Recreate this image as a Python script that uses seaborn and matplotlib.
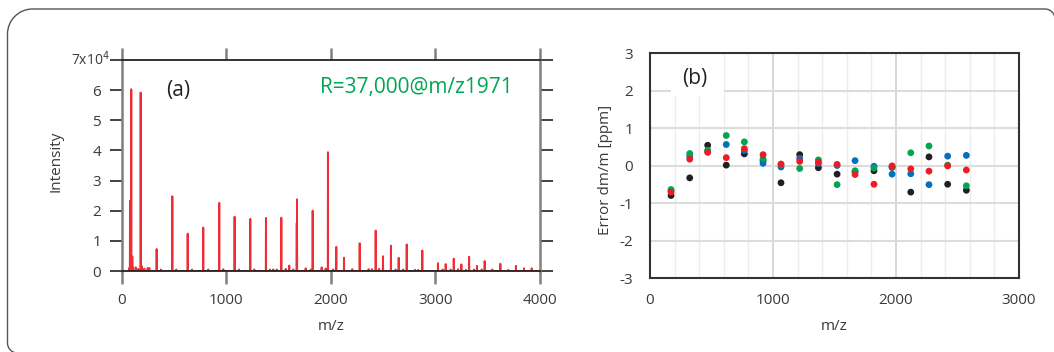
import numpy as np
import pandas as pd
import matplotlib
matplotlib.use("Agg")
import matplotlib.pyplot as plt
from matplotlib.path import Path
from matplotlib.patches import PathPatch
from matplotlib.ticker import MultipleLocator
import seaborn as sns

# (a) mass spectrum, intensity in units of 1e4
peak_mz = [77, 89, 99, 179, 332, 482, 629, 778, 931, 1078, 1228, 1378, 1525,
           1673, 1675, 1825, 1971, 2051, 2125, 2275, 2428, 2498, 2574, 2648,
           2725, 2874, 3024, 3098, 3175, 3248, 3322, 3397, 3471, 3621, 3770,
           3847, 3921]
peak_int = [2.33, 6.03, 0.48, 5.92, 0.73, 2.48, 1.24, 1.44, 2.26, 1.80, 1.73,
            1.76, 1.77, 1.59, 2.38, 2.00, 3.94, 0.80, 0.44, 0.92, 1.34, 0.49,
            0.84, 0.44, 0.88, 0.68, 0.26, 0.23, 0.41, 0.22, 0.47, 0.17, 0.33,
            0.24, 0.17, 0.09, 0.09]
minor_mz = [70, 105, 131, 156, 191, 214, 246, 262, 373, 520, 670, 826, 970,
            1120, 1267, 1416, 1448, 1480, 1567, 1601, 1640, 1758, 1806, 1911,
            1949, 2021, 2204, 2360, 2392, 2459, 2618, 2692, 2804, 2836, 3068,
            3145, 3217, 3292, 3369, 3442, 3544, 3697]
minor_int = [0.10, 0.12, 0.12, 0.07, 0.16, 0.08, 0.10, 0.10, 0.05, 0.05, 0.05,
             0.05, 0.06, 0.05, 0.05, 0.05, 0.05, 0.05, 0.07, 0.18, 0.05, 0.09,
             0.05, 0.12, 0.08, 0.05, 0.06, 0.06, 0.06, 0.07, 0.05, 0.05, 0.04,
             0.04, 0.05, 0.05, 0.06, 0.04, 0.05, 0.05, 0.05, 0.04]

# (b) mass error of calibrant peaks, four measurements
cal_mz = [171, 323, 469, 620, 767, 919, 1065, 1217, 1369, 1521, 1667, 1821,
          1968, 2120, 2268, 2420, 2572]
err_black = [-0.80, -0.33, 0.54, 0.01, 0.31, 0.13, -0.46, 0.29, -0.06, -0.23,
             -0.17, -0.14, -0.05, -0.71, 0.23, -0.50, -0.66]
err_blue = [-0.68, 0.25, 0.38, 0.56, 0.40, 0.06, -0.04, 0.19, 0.05, 0.00,
            0.13, -0.02, -0.23, -0.22, -0.51, 0.25, 0.27]
err_green = [-0.64, 0.32, 0.41, 0.80, 0.63, 0.18, 0.02, -0.08, 0.15, -0.51,
             -0.14, -0.07, -0.03, 0.34, 0.52, 0.01, -0.54]
err_red = [-0.71, 0.17, 0.35, 0.21, 0.45, 0.29, 0.04, 0.11, 0.09, 0.03,
           -0.24, -0.50, -0.01, -0.09, -0.15, -0.01, -0.12]

sns.set_style("white")
plt.rcParams['font.family'] = ['Open Sans', 'DejaVu Sans']
plt.rcParams['axes.unicode_minus'] = False
txt = '#3a3a3a'
red = '#ee2e34'

# stick spectrum as one continuous trace along the baseline
pk = sorted(zip(peak_mz + minor_mz, peak_int + minor_int))
xs, ys = [60], [0]
for m, h in pk:
    xs += [m - 1.5, m, m + 1.5]
    ys += [0, h, 0]
xs.append(4000)
ys.append(0)
spec = pd.DataFrame({'mz': xs, 'intensity': ys})

err = pd.concat([
    pd.DataFrame({'mz': cal_mz, 'err': err_black, 'run': 'black'}),
    pd.DataFrame({'mz': cal_mz, 'err': err_blue, 'run': 'blue'}),
    pd.DataFrame({'mz': cal_mz, 'err': err_green, 'run': 'green'}),
    pd.DataFrame({'mz': cal_mz, 'err': err_red, 'run': 'red'}),
])
pal = {'black': '#231f20', 'blue': '#0072bc', 'green': '#00a651', 'red': '#ed1c24'}

fig = plt.figure(figsize=(10.54, 3.52), dpi=100)
ax1 = fig.add_axes([0.1157, 0.2301, 0.3966, 0.5994])
ax2 = fig.add_axes([0.6167, 0.2102, 0.3501, 0.6392])

# ---- panel (a)
sns.lineplot(data=spec, x='mz', y='intensity', sort=False, estimator=None,
             color=red, lw=1.4, ax=ax1)
ax1.set_xlim(0, 4000)
ax1.set_ylim(0, 7)
ax1.set_xticks([0, 1000, 2000, 3000, 4000])
ax1.set_yticks(range(8))
ax1.set_yticklabels(['0', '1', '2', '3', '4', '5', '6', ''])
ax1.text(-0.03, 1.0, '7x10$^4$', transform=ax1.transAxes, ha='right',
         va='center', fontsize=10, color=txt)
for s in ['left', 'right']:
    ax1.spines[s].set_color('#808080')
    ax1.spines[s].set_linewidth(1.8)
for s in ['top', 'bottom']:
    ax1.spines[s].set_color('#222222')
    ax1.spines[s].set_linewidth(1.3)
ax1.tick_params(axis='x', direction='out', length=9, width=1.8, color='#808080',
                top=True, bottom=True, labelsize=11, labelcolor=txt, pad=7)
ax1.tick_params(axis='y', direction='out', length=9, width=1.2, color='#222222',
                left=True, right=True, labelsize=11, labelcolor=txt, pad=6)
ax1.set_xlabel('m/z', fontsize=11, color=txt, labelpad=8)
ax1.set_ylabel('Intensity', fontsize=11, color=txt)
ax1.yaxis.set_label_coords(-0.141, 0.52)
ax1.text(536, 6.0, '(a)', fontsize=15, color='#222222', ha='center', va='center')
ax1.text(2813, 6.09, 'R=37,000@m/z1971', fontsize=15, color='#00a651',
         ha='center', va='center')

# ---- panel (b)
ax2.set_xlim(0, 3000)
ax2.set_ylim(-3, 3)
ax2.xaxis.set_major_locator(MultipleLocator(1000))
ax2.xaxis.set_minor_locator(MultipleLocator(200))
ax2.yaxis.set_major_locator(MultipleLocator(1))
ax2.grid(which='minor', axis='x', color='#ededed', lw=1.0)
ax2.grid(which='major', axis='x', color='#d2d2d2', lw=1.2)
ax2.grid(which='major', axis='y', color='#dcdcdc', lw=1.5)
ax2.set_axisbelow(True)
# white patch behind the panel label, hiding the grid there
ax2.axvspan(171, 602, ymin=0.808, ymax=1, fc='white', ec='none', zorder=1)
sns.scatterplot(data=err, x='mz', y='err', hue='run', palette=pal, s=24,
                linewidth=0, legend=False, ax=ax2, zorder=3)
for s in ax2.spines.values():
    s.set_color('#333333')
    s.set_linewidth(1.5)
ax2.tick_params(which='both', length=0, labelsize=11, labelcolor=txt)
ax2.tick_params(axis='x', pad=11)
ax2.tick_params(axis='y', pad=12)
ax2.set_xlabel('m/z', fontsize=11, color=txt, labelpad=8)
ax2.set_ylabel('Error dm/m [ppm]', fontsize=11, color=txt)
ax2.yaxis.set_label_coords(-0.10, 0.48)
ax2.text(366, 2.33, '(b)', fontsize=15, color='#222222', ha='center',
         va='center', zorder=4)

# rounded frame around both panels
W, H = 1054.0, 352.0
k = 0.5523
def p(x, y):
    return (x / W, 1 - y / H)
verts = [p(17.5, 353), p(17.5 - 10 * k, 353), p(7.5, 343 + 10 * k), p(7.5, 343),
         p(7.5, 34), p(7.5, 34 - 25 * k), p(32.5 - 25 * k, 9), p(32.5, 9),
         p(1045, 9), p(1045 + 10 * k, 9), p(1055, 19 - 10 * k), p(1055, 19),
         p(1055, 353)]
codes = [Path.MOVETO, Path.CURVE4, Path.CURVE4, Path.CURVE4, Path.LINETO,
         Path.CURVE4, Path.CURVE4, Path.CURVE4, Path.LINETO, Path.CURVE4,
         Path.CURVE4, Path.CURVE4, Path.LINETO]
fig.add_artist(PathPatch(Path(verts, codes), fc='none', ec='#555555', lw=1.0,
                         transform=fig.transFigure))

fig.savefig('out.png', dpi=100)
